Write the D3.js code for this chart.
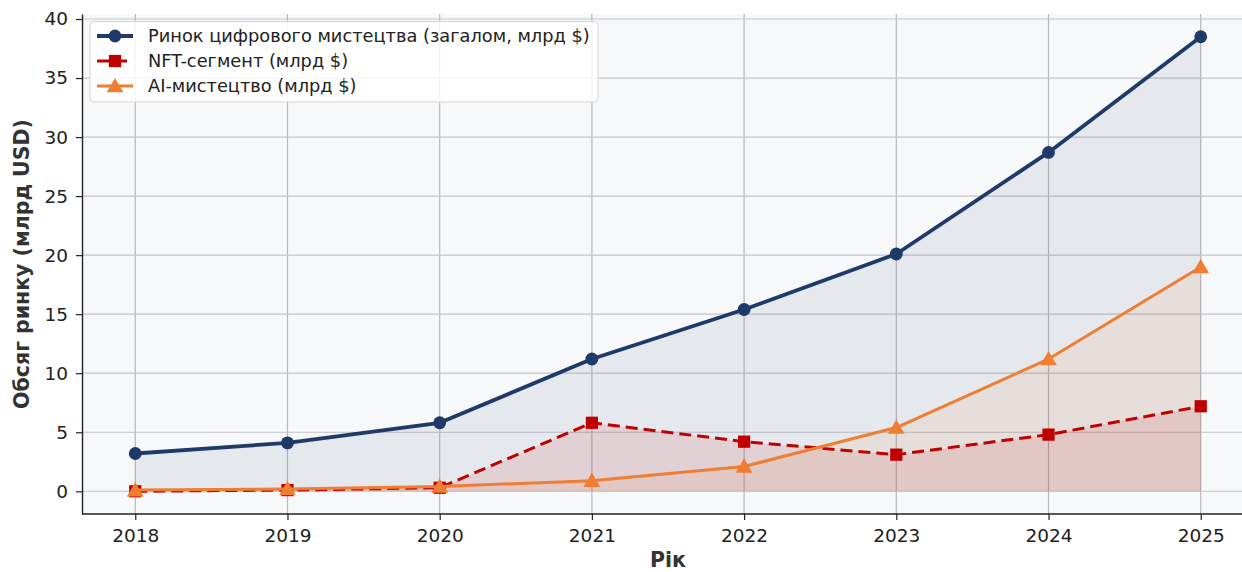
<!DOCTYPE html>
<html><head><meta charset="utf-8">
<script src="https://cdn.jsdelivr.net/npm/d3@7"></script>
<style>body{margin:0;background:#fff;} svg{display:block;font-family:"DejaVu Sans",sans-serif;}</style>
</head><body><svg id="c" width="1242" height="572"></svg>
<script>
const years = [2018, 2019, 2020, 2021, 2022, 2023, 2024, 2025];
const totalMarket = [3.2, 4.1, 5.8, 11.2, 15.4, 20.1, 28.7, 38.5];
const nftSegment = [0.0, 0.1, 0.3, 5.8, 4.2, 3.1, 4.8, 7.2];
const aiArt = [0.1, 0.2, 0.4, 0.9, 2.1, 5.4, 11.2, 19.0];
const yTicks = [0, 5, 10, 15, 20, 25, 30, 35, 40];
const seriesNames = ["Ринок цифрового мистецтва (загалом, млрд $)", "NFT-сегмент (млрд $)", "AI-мистецтво (млрд $)"];
const xTitle = "Рік";
const yTitle = "Обсяг ринку (млрд USD)";

const svg = d3.select("#c");
const L = 82, R = 1254, T = 14, B = 514;
const x = d3.scaleLinear().domain([2017.65, 2025.35]).range([L, R]);
const y = d3.scaleLinear().domain([-1.925, 40.425]).range([B, T]);

svg.append("rect").attr("x", L).attr("y", T).attr("width", R - L).attr("height", B - T).attr("fill", "#f7f8fa");

// grid
const g = svg.append("g");
g.selectAll(".gx").data(years).enter().append("line")
  .attr("x1", d => x(d)).attr("x2", d => x(d)).attr("y1", T).attr("y2", B)
  .attr("stroke", "#b8b8bc").attr("stroke-width", 1.2);
g.selectAll(".gy").data(yTicks).enter().append("line")
  .attr("x1", L).attr("x2", R).attr("y1", d => y(d)).attr("y2", d => y(d))
  .attr("stroke", "#c4c4c8").attr("stroke-width", 1.2);

const series = [
  {name: seriesNames[0], vals: totalMarket, color: "#1f3a68", width: 3.8, dash: null, marker: "circle", fo: 0.08},
  {name: seriesNames[1], vals: nftSegment, color: "#c00000", width: 3, dash: "12,6", marker: "square", fo: 0.1},
  {name: seriesNames[2], vals: aiArt, color: "#ef7d32", width: 3, dash: null, marker: "triangle", fo: 0.1}
];

const area = d3.area().x((d, i) => x(years[i])).y0(y(0)).y1(d => y(d));
const line = d3.line().x((d, i) => x(years[i])).y(d => y(d));

series.forEach(s => {
  svg.append("path").attr("d", area(s.vals)).attr("fill", s.color).attr("fill-opacity", s.fo);
});

const sym = {circle: d3.symbolCircle, square: d3.symbolSquare, triangle: d3.symbolTriangle};
const symSize = {circle: 130, square: 150, triangle: 120};

series.forEach(s => {
  svg.append("path").attr("d", line(s.vals)).attr("fill", "none").attr("stroke", s.color)
    .attr("stroke-width", s.width).attr("stroke-dasharray", s.dash).attr("stroke-linejoin", "round");
  svg.append("g").selectAll("path").data(s.vals).enter().append("path")
    .attr("d", d3.symbol().type(sym[s.marker]).size(symSize[s.marker]))
    .attr("transform", (d, i) => `translate(${x(years[i])},${y(d) + (s.marker === "triangle" ? 1.5 : 0)})`)
    .attr("fill", s.color);
});

// axes
const xa = svg.append("g").attr("transform", `translate(0,${B})`)
  .call(d3.axisBottom(x).tickValues(years).tickFormat(d3.format("d")).tickSize(6).tickSizeOuter(0).tickPadding(9));
const ya = svg.append("g").attr("transform", `translate(${L},0)`)
  .call(d3.axisLeft(y).tickValues(yTicks).tickSize(6).tickSizeOuter(0).tickPadding(8));
[xa, ya].forEach(a => {
  a.select(".domain").attr("stroke", "#222").attr("stroke-width", 1.4);
  a.selectAll(".tick line").attr("stroke", "#222").attr("stroke-width", 1.2);
  a.selectAll("text").attr("font-size", 18.5).attr("fill", "#222").attr("font-family", "DejaVu Sans");
});
xa.select(".domain").attr("d", `M${L},0H${R}`);

svg.append("text").attr("x", (L + R) / 2).attr("y", 567).attr("text-anchor", "middle")
  .attr("font-size", 20.5).attr("font-weight", "bold").attr("fill", "#333").text(xTitle);
svg.append("text").attr("transform", `translate(29,${(T + B) / 2}) rotate(-90)`).attr("text-anchor", "middle")
  .attr("font-size", 20.5).attr("font-weight", "bold").attr("fill", "#333").text(yTitle);

// legend
const lg = svg.append("g");
lg.append("rect").attr("x", 90).attr("y", 21.5).attr("width", 508).attr("height", 80.5).attr("rx", 4)
  .attr("fill", "#fff").attr("fill-opacity", 0.85).attr("stroke", "#d6d6d6");
series.forEach((s, i) => {
  const yy = 36 + i * 25;
  lg.append("line").attr("x1", 97).attr("x2", 133).attr("y1", yy).attr("y2", yy)
    .attr("stroke", s.color).attr("stroke-width", s.width).attr("stroke-dasharray", s.dash);
  lg.append("path").attr("d", d3.symbol().type(sym[s.marker]).size(symSize[s.marker])())
    .attr("transform", `translate(115,${yy + (s.marker === "triangle" ? 1.5 : 0)})`).attr("fill", s.color);
  lg.append("text").attr("x", 148).attr("y", yy + 6).attr("font-size", 17.8).attr("fill", "#222").text(s.name);
});
</script></body></html>
